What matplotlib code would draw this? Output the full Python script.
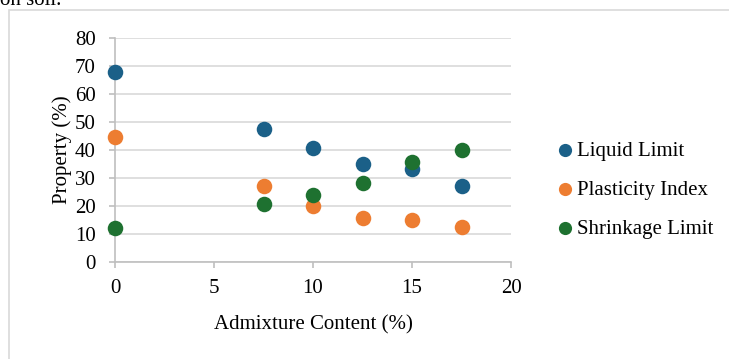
import matplotlib.pyplot as plt
import matplotlib.patches as patches

plt.rcParams['font.family'] = ['Liberation Serif', 'DejaVu Serif']

# admixture content (%)
admixture = [0, 7.5, 10, 12.5, 15, 17.5]
liquid_limit = [67.9, 47.5, 40.7, 35.0, 33.2, 27.2]
plasticity_index = [44.6, 27.2, 20.0, 15.7, 15.0, 12.4]
shrinkage_limit = [12.2, 20.7, 23.9, 28.2, 35.7, 40.0]

series = [('Liquid Limit', liquid_limit, '#1b6088'),
          ('Plasticity Index', plasticity_index, '#ed7d31'),
          ('Shrinkage Limit', shrinkage_limit, '#1e7130')]

fs = 15

fig = plt.figure(figsize=(7.29, 3.59), dpi=100)
ax = fig.add_axes([115 / 729, 1 - 262 / 359, 396 / 729, 224 / 359])

# outer chart border
fig.patches.append(patches.Rectangle((9 / 729, -0.05), 1.0, 1 - 10 / 359 + 0.05,
                                     transform=fig.transFigure, fill=False,
                                     edgecolor='#d9d9d9', linewidth=1.2))
fig.text(0.0, 1 - 5 / 359, 'on soil.', fontsize=fs, va='baseline', ha='left')

for name, vals, col in series:
    ax.scatter(admixture, vals, s=125, color=col, label=name, zorder=3,
               clip_on=False, linewidths=0)

ax.set_xlim(0, 20)
ax.set_ylim(0, 80)
ax.set_xticks([0, 5, 10, 15, 20])
ax.set_yticks(range(0, 81, 10))
ax.grid(axis='y', color='#d9d9d9', linewidth=1.2)
ax.set_axisbelow(True)
for s in ['top', 'right']:
    ax.spines[s].set_visible(False)
for s in ['left', 'bottom']:
    ax.spines[s].set_color('#bfbfbf')
    ax.spines[s].set_linewidth(1.2)
ax.tick_params(axis='both', colors='#bfbfbf', labelcolor='black', labelsize=fs,
               length=4, width=1.2)
ax.tick_params(axis='x', pad=8)
ax.tick_params(axis='y', pad=10)

ax.set_xlabel('Admixture Content (%)', fontsize=fs, labelpad=13)
ax.set_ylabel('Property (%)', fontsize=fs, labelpad=2)

fig.legend(loc='upper left', bbox_to_anchor=(536 / 729, 1 - 133 / 359),
           frameon=False, fontsize=fs, handletextpad=-0.45, labelspacing=0.93,
           markerscale=0.85, borderaxespad=0)

fig.savefig('out.png', dpi=100)
